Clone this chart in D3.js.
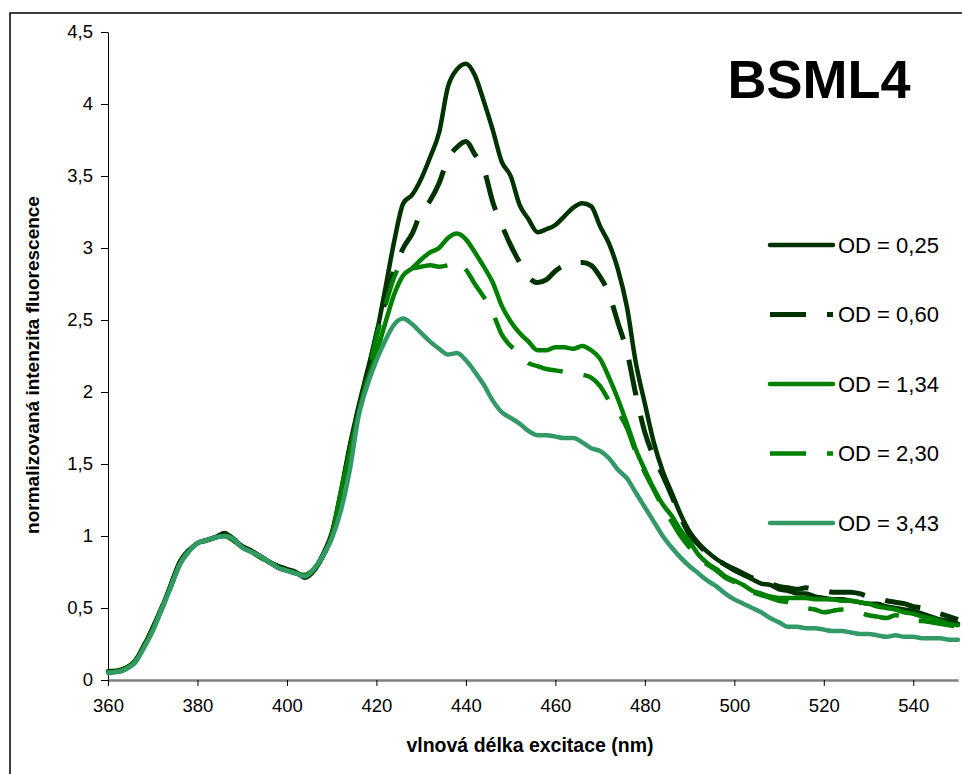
<!DOCTYPE html>
<html>
<head>
<meta charset="utf-8">
<script src="https://cdn.jsdelivr.net/npm/d3@7"></script>
<style>
  body { margin: 0; background: #fff; }
  svg { display: block; }
  text { font-family: "Liberation Sans", Arial, sans-serif; fill: #000; }
</style>
</head>
<body>
<svg id="chart" width="962" height="774"></svg>
<script>
// Excitation wavelengths (nm), sampled every 2 nm
const wavelengths = [
  360, 362, 364, 366, 368, 370, 372, 374, 376, 378,
  380, 382, 384, 386, 388, 390, 392, 394, 396, 398,
  400, 402, 404, 406, 408, 410, 412, 414, 416, 418,
  420, 422, 424, 426, 428, 430, 432, 434, 436, 438,
  440, 442, 444, 446, 448, 450, 452, 454, 456, 458,
  460, 462, 464, 466, 468, 470, 472, 474, 476, 478,
  480, 482, 484, 486, 488, 490, 492, 494, 496, 498,
  500, 502, 504, 506, 508, 510, 512, 514, 516, 518,
  520, 522, 524, 526, 528, 530, 532, 534, 536, 538,
  540, 542, 544, 546, 548, 550
];

// Normalized fluorescence intensity for each optical density
const od025 = [
  0.06, 0.065, 0.085, 0.13, 0.24, 0.36, 0.50, 0.66, 0.82, 0.90,
  0.95, 0.97, 0.99, 1.02, 0.98, 0.93, 0.90, 0.86, 0.82, 0.79,
  0.77, 0.75, 0.71, 0.76, 0.87, 1.02, 1.30, 1.62, 1.90, 2.15,
  2.40, 2.72, 3.05, 3.31, 3.37, 3.48, 3.63, 3.80, 4.12, 4.24,
  4.28, 4.20, 4.02, 3.82, 3.60, 3.50, 3.30, 3.20, 3.11, 3.13,
  3.16, 3.22, 3.28, 3.31, 3.29, 3.15, 3.03, 2.85, 2.59, 2.20,
  1.92, 1.65, 1.45, 1.30, 1.15, 1.03, 0.95, 0.89, 0.84, 0.80,
  0.76, 0.73, 0.70, 0.67, 0.66, 0.63, 0.62, 0.60, 0.60, 0.58,
  0.57, 0.56, 0.56, 0.55, 0.54, 0.53, 0.53, 0.51, 0.50, 0.49,
  0.48, 0.46, 0.44, 0.42, 0.41, 0.39
];
const od060 = [
  0.06, 0.06, 0.08, 0.13, 0.23, 0.36, 0.50, 0.65, 0.81, 0.90,
  0.95, 0.97, 0.99, 1.01, 0.98, 0.93, 0.89, 0.86, 0.82, 0.79,
  0.77, 0.75, 0.72, 0.76, 0.86, 1.00, 1.27, 1.60, 1.88, 2.12,
  2.40, 2.63, 2.85, 3.00, 3.10, 3.25, 3.33, 3.45, 3.62, 3.70,
  3.74, 3.65, 3.55, 3.32, 3.16, 3.02, 2.90, 2.80, 2.76, 2.78,
  2.84, 2.88, 2.90, 2.90, 2.88, 2.80, 2.68, 2.48, 2.28, 1.98,
  1.72, 1.55, 1.42, 1.28, 1.13, 1.01, 0.94, 0.88, 0.84, 0.80,
  0.77, 0.74, 0.71, 0.69, 0.67, 0.65, 0.64, 0.63, 0.64, 0.63,
  0.62, 0.61, 0.61, 0.61, 0.60, 0.58, 0.57, 0.55, 0.54, 0.53,
  0.51, 0.50, 0.48, 0.46, 0.44, 0.42
];
const od134 = [
  0.055, 0.06, 0.08, 0.12, 0.23, 0.35, 0.49, 0.65, 0.80, 0.89,
  0.95, 0.97, 0.99, 1.00, 0.97, 0.92, 0.89, 0.86, 0.82, 0.78,
  0.76, 0.74, 0.73, 0.77, 0.86, 1.00, 1.30, 1.58, 1.85, 2.08,
  2.27, 2.48, 2.68, 2.81, 2.86, 2.92, 2.97, 3.00, 3.07, 3.10,
  3.06, 2.97, 2.87, 2.76, 2.60, 2.49, 2.41, 2.35, 2.29, 2.29,
  2.31, 2.31, 2.30, 2.32, 2.29, 2.23, 2.10, 1.95, 1.78, 1.60,
  1.46, 1.33, 1.22, 1.14, 1.04, 0.96, 0.87, 0.81, 0.77, 0.72,
  0.69, 0.66, 0.62, 0.60, 0.58, 0.57, 0.57, 0.57, 0.57, 0.56,
  0.56, 0.56, 0.55, 0.55, 0.54, 0.53, 0.51, 0.50, 0.49, 0.47,
  0.46, 0.44, 0.43, 0.41, 0.39, 0.38
];
const od230 = [
  0.05, 0.06, 0.08, 0.13, 0.23, 0.35, 0.50, 0.65, 0.80, 0.90,
  0.95, 0.97, 0.99, 1.00, 0.97, 0.92, 0.89, 0.85, 0.82, 0.78,
  0.76, 0.75, 0.73, 0.77, 0.86, 1.00, 1.25, 1.55, 1.85, 2.10,
  2.38, 2.60, 2.80, 2.90, 2.86, 2.87, 2.88, 2.87, 2.88, 2.90,
  2.85, 2.75, 2.66, 2.55, 2.40, 2.32, 2.27, 2.20, 2.18, 2.16,
  2.15, 2.14, 2.13, 2.12, 2.10, 2.04, 1.94, 1.86, 1.75, 1.58,
  1.44, 1.32, 1.20, 1.10, 1.00, 0.92, 0.85, 0.80, 0.76, 0.71,
  0.68, 0.64, 0.61, 0.59, 0.57, 0.55, 0.54, 0.52, 0.50, 0.49,
  0.47, 0.48, 0.49, 0.49, 0.47, 0.45, 0.44, 0.43, 0.45, 0.44,
  0.41, 0.41, 0.40, 0.39, 0.38, 0.37
];
const od343 = [
  0.05, 0.055, 0.075, 0.12, 0.22, 0.34, 0.49, 0.64, 0.80, 0.89,
  0.95, 0.97, 0.99, 1.00, 0.98, 0.92, 0.89, 0.86, 0.82, 0.78,
  0.76, 0.74, 0.72, 0.77, 0.86, 0.98, 1.17, 1.45, 1.83, 2.05,
  2.22, 2.36, 2.47, 2.51, 2.47, 2.41, 2.35, 2.30, 2.26, 2.27,
  2.22, 2.14, 2.05, 1.94, 1.86, 1.82, 1.78, 1.73, 1.70, 1.70,
  1.69, 1.68, 1.68, 1.65, 1.61, 1.59, 1.54, 1.46, 1.40, 1.30,
  1.20, 1.10, 1.00, 0.92, 0.85, 0.79, 0.74, 0.69, 0.65, 0.60,
  0.56, 0.53, 0.50, 0.47, 0.43, 0.40, 0.37, 0.37, 0.36, 0.36,
  0.35, 0.34, 0.34, 0.33, 0.32, 0.32, 0.31, 0.30, 0.31, 0.30,
  0.30, 0.29, 0.29, 0.29, 0.28, 0.28
];

const seriesLabels = ["OD = 0,25", "OD = 0,60", "OD = 1,34", "OD = 2,30", "OD = 3,43"];
const seriesValues = [od025, od060, od134, od230, od343];

const xTickValues = [360, 380, 400, 420, 440, 460, 480, 500, 520, 540];
const yTickValues = [0, 0.5, 1, 1.5, 2, 2.5, 3, 3.5, 4, 4.5];

const chartTitle = "BSML4";
const xAxisTitle = "vlnová délka excitace (nm)";
const yAxisTitle = "normalizovaná intenzita fluorescence";

// Line appearance per series
const styles = [
  { color: "#003300", width: 4.5, dash: null },
  { color: "#003300", width: 5,   dash: "36,21" },
  { color: "#008000", width: 4.5, dash: null },
  { color: "#008000", width: 4.5, dash: "36,21" },
  { color: "#339966", width: 4.5, dash: null }
];

const svg = d3.select("#chart");

// Outer chart frame
svg.append("rect")
  .attr("x", 10).attr("y", 13)
  .attr("width", 980).attr("height", 800)
  .attr("fill", "none")
  .attr("stroke", "#000")
  .attr("stroke-width", 1.5);

const x = d3.scaleLinear().domain([360, 550]).range([108, 958]);
const y = d3.scaleLinear().domain([0, 4.5]).range([680, 32]);

const comma = d => String(d).replace(".", ",");

// Y axis
const yAxis = svg.append("g")
  .attr("transform", `translate(${x(360)},0)`)
  .call(d3.axisLeft(y).tickValues(yTickValues).tickFormat(comma).tickSize(7).tickSizeOuter(0).tickPadding(8));
yAxis.select(".domain").attr("stroke", "#000").attr("stroke-width", 1);
yAxis.selectAll(".tick line").attr("stroke", "#000");
yAxis.selectAll(".tick text").style("font-size", "18.5px").attr("font-family", null);

// X axis
const xAxis = svg.append("g")
  .attr("transform", `translate(0,${y(0)})`)
  .call(d3.axisBottom(x).tickValues(xTickValues).tickSize(6).tickSizeOuter(0).tickPadding(13));
xAxis.select(".domain").attr("stroke", "#808080").attr("stroke-width", 2.5);
xAxis.selectAll(".tick line").attr("stroke", "#000");
xAxis.selectAll(".tick text").style("font-size", "18.5px").attr("font-family", null);

// Spectra, first series at the back
const line = d3.line()
  .x((d, i) => x(wavelengths[i]))
  .y(d => y(d))
  .curve(d3.curveMonotoneX);

const plot = svg.append("g");
seriesValues.forEach((vals, k) => {
  const s = styles[k];
  plot.append("path")
    .datum(vals)
    .attr("d", line)
    .attr("fill", "none")
    .attr("stroke", s.color)
    .attr("stroke-width", s.width)
    .attr("stroke-linejoin", s.dash ? "miter" : "round")
    .attr("stroke-linecap", s.dash ? "butt" : "round")
    .attr("stroke-dasharray", s.dash);
});

// Legend
const legend = svg.append("g");
seriesLabels.forEach((label, k) => {
  const s = styles[k];
  const ly = 245 + k * 69.5;
  legend.append("line")
    .attr("x1", 770).attr("x2", 833)
    .attr("y1", ly).attr("y2", ly)
    .attr("stroke", s.color)
    .attr("stroke-width", s.width)
    .attr("stroke-linecap", s.dash ? "butt" : "round")
    .attr("stroke-dasharray", s.dash);
  legend.append("text")
    .attr("x", 838).attr("y", ly)
    .attr("dy", "0.36em")
    .style("font-size", "22px")
    .text(label);
});

// Title
svg.append("text")
  .attr("x", 819).attr("y", 98)
  .attr("text-anchor", "middle")
  .style("font-size", "54px")
  .style("font-weight", "bold")
  .text(chartTitle);

// Axis titles
svg.append("text")
  .attr("x", 530).attr("y", 752)
  .attr("text-anchor", "middle")
  .style("font-size", "19.5px")
  .style("font-weight", "bold")
  .text(xAxisTitle);

svg.append("text")
  .attr("transform", `translate(39,365) rotate(-90)`)
  .attr("text-anchor", "middle")
  .style("font-size", "19px")
  .style("font-weight", "bold")
  .text(yAxisTitle);
</script>
</body>
</html>
